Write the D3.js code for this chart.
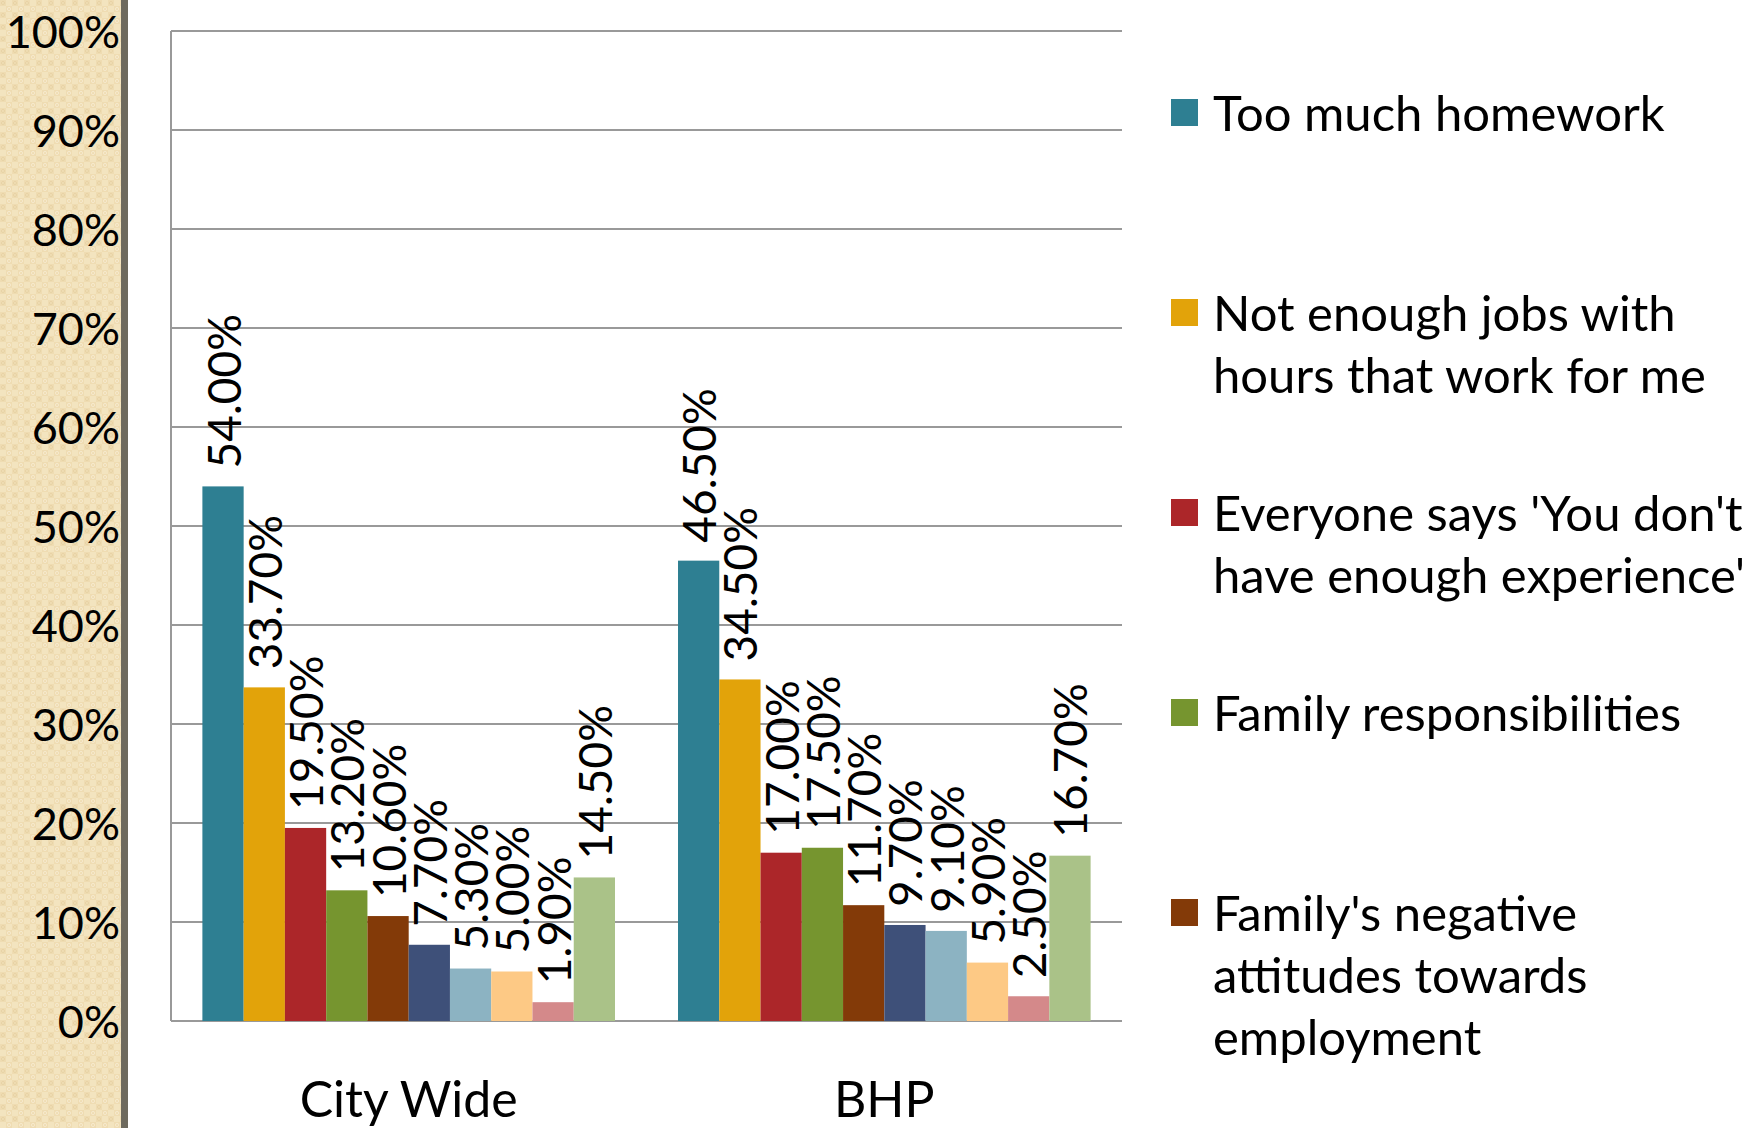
<!DOCTYPE html>
<html>
<head>
<meta charset="utf-8">
<script src="https://cdn.jsdelivr.net/npm/d3@7"></script>
<style>
	body { margin: 0; background: white; }
	text { font-family: Lato, 'Open Sans', sans-serif; fill: black; }
</style>
</head>
<body>
<div id="chart"></div>
<script>
// data
let categories = ['City Wide', 'BHP']
let cityWide = [54.0, 33.7, 19.5, 13.2, 10.6, 7.7, 5.3, 5.0, 1.9, 14.5]
let bhp = [46.5, 34.5, 17.0, 17.5, 11.7, 9.7, 9.1, 5.9, 2.5, 16.7]
let yTicks = [0, 10, 20, 30, 40, 50, 60, 70, 80, 90, 100]
let colors = ['#2e7f92', '#e2a30a', '#ac2629', '#76952f', '#833a08',
	'#3e5079', '#8cb3c2', '#fdc985', '#d4898a', '#aac288']
// legend only shows the first five reasons
let legendLabels = [
	['Too much homework'],
	['Not enough jobs with', 'hours that work for me'],
	["Everyone says 'You don't", "have enough experience'"],
	['Family responsibilities'],
	["Family's negative", 'attitudes towards', 'employment']
]

let values = [cityWide, bhp]

let width = 1764,
	height = 1128,
	plotLeft = 171,
	plotRight = 1122,
	plotTop = 31,
	plotBottom = 1021

let svg = d3.select('#chart')
	.append('svg')
	.attr('width', width)
	.attr('height', height)

// beige textured side panel
let defs = svg.append('defs')
let pat = defs.append('pattern')
	.attr('id', 'paper')
	.attr('width', 12)
	.attr('height', 12)
	.attr('patternUnits', 'userSpaceOnUse')
pat.append('rect').attr('width', 12).attr('height', 12).attr('fill', '#f3e4bf')
pat.append('rect').attr('width', 6).attr('height', 6).attr('fill', '#efdcb2')
pat.append('rect').attr('x', 6).attr('y', 6).attr('width', 6).attr('height', 6).attr('fill', '#efdcb2')
pat.append('circle').attr('cx', 3).attr('cy', 3).attr('r', 1.6)
	.attr('fill', 'none').attr('stroke', '#e6d1a2').attr('stroke-width', 0.8)
pat.append('circle').attr('cx', 9).attr('cy', 9).attr('r', 1.6)
	.attr('fill', 'none').attr('stroke', '#f7ecd2').attr('stroke-width', 0.8)

svg.append('rect')
	.attr('x', 0).attr('y', 0)
	.attr('width', 121).attr('height', height)
	.attr('fill', 'url(#paper)')
svg.append('rect')
	.attr('x', 121).attr('y', 0)
	.attr('width', 7).attr('height', height)
	.attr('fill', '#6e6a5e')

// scales
let y = d3.scaleLinear()
	.domain([0, 100])
	.range([plotBottom, plotTop])

let x0 = d3.scaleBand()
	.domain(categories)
	.range([plotLeft, plotRight])
	.paddingInner(0.1325)
	.paddingOuter(0.066)

let x1 = d3.scaleBand()
	.domain(d3.range(colors.length))
	.range([0, x0.bandwidth()])

// gridlines
svg.selectAll('.grid')
	.data(yTicks)
	.enter()
	.append('line')
	.attr('x1', plotLeft)
	.attr('x2', plotRight)
	.attr('y1', function(d){ return y(d) })
	.attr('y2', function(d){ return y(d) })
	.attr('stroke', '#999')
	.attr('stroke-width', 2)

svg.append('line')
	.attr('x1', plotLeft).attr('x2', plotLeft)
	.attr('y1', y(100)).attr('y2', y(0))
	.attr('stroke', '#999')
	.attr('stroke-width', 2)

// y tick labels
svg.selectAll('.ytick')
	.data(yTicks)
	.enter()
	.append('text')
	.attr('x', 120)
	.attr('y', function(d){ return y(d) })
	.attr('text-anchor', 'end')
	.attr('dominant-baseline', 'central')
	.style('font-size', '45px')
	.text(function(d){ return d + '%' })

// bars
let groups = svg.selectAll('.group')
	.data(categories)
	.enter()
	.append('g')
	.attr('transform', function(d){ return 'translate(' + x0(d) + ',0)' })

groups.selectAll('rect')
	.data(function(d, i){ return values[i] })
	.enter()
	.append('rect')
	.attr('x', function(d, i){ return x1(i) })
	.attr('width', x1.bandwidth())
	.attr('y', function(d){ return y(d) })
	.attr('height', function(d){ return y(0) - y(d) })
	.attr('fill', function(d, i){ return colors[i] })

// rotated value labels
groups.selectAll('.label')
	.data(function(d, i){ return values[i] })
	.enter()
	.append('text')
	.attr('transform', function(d, i){
		return 'translate(' + (x1(i) + x1.bandwidth() / 2) + ',' + (y(d) - 18) + ') rotate(-90)'
	})
	.attr('dominant-baseline', 'central')
	.style('font-size', '46px')
	.text(function(d){ return d3.format('.2f')(d) + '%' })

// category labels
svg.selectAll('.cat')
	.data(categories)
	.enter()
	.append('text')
	.attr('x', function(d){ return x0(d) + x0.bandwidth() / 2 })
	.attr('y', 1117)
	.attr('text-anchor', 'middle')
	.style('font-size', '50px')
	.text(function(d){ return d })

// legend
let legend = svg.selectAll('.legend')
	.data(legendLabels)
	.enter()
	.append('g')
	.attr('transform', function(d, i){ return 'translate(1171,' + (112 + i * 200) + ')' })

legend.append('rect')
	.attr('x', 0)
	.attr('y', -13)
	.attr('width', 27)
	.attr('height', 27)
	.attr('fill', function(d, i){ return colors[i] })

legend.selectAll('text')
	.data(function(d){ return d })
	.enter()
	.append('text')
	.attr('x', 42)
	.attr('y', function(d, i){ return i * 62 })
	.attr('dominant-baseline', 'central')
	.style('font-size', '49px')
	.text(function(d){ return d })
</script>
</body>
</html>
